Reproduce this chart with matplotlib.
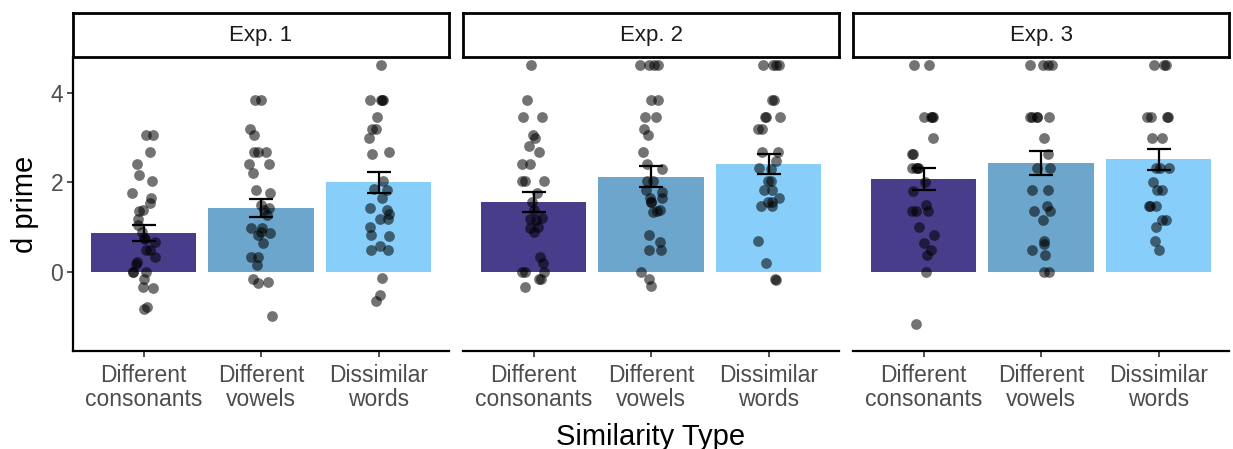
import numpy as np
import matplotlib
matplotlib.use("Agg")
import matplotlib.pyplot as plt

plt.rcParams['font.family'] = ['Liberation Sans', 'DejaVu Sans']

# categories and panels
categories = ["Different\nconsonants", "Different\nvowels", "Dissimilar\nwords"]
experiments = ["Exp. 1", "Exp. 2", "Exp. 3"]
bar_colors = ["#483D8B", "#6CA6CD", "#87CEFA"]

# bar means and standard errors (per experiment, per category)
means_exp1 = [0.86, 1.42, 2.00]
means_exp2 = [1.56, 2.12, 2.41]
means_exp3 = [2.07, 2.44, 2.51]
se_exp1 = [0.175, 0.205, 0.235]
se_exp2 = [0.215, 0.235, 0.23]
se_exp3 = [0.245, 0.27, 0.23]

# individual participant d' values
e1_cons = [3.05, 3.05, 2.67, 2.41, 2.16, 2.03, 1.77, 1.64, 1.53, 1.38, 1.35, 1.18, 1.04, 0.89, 0.76,
           0.74, 0.67, 0.48, 0.48, 0.33, 0.22, 0.17, 0, 0, 0, -0.15, -0.34, -0.37, -0.78, -0.83]
e1_vow = [3.84, 3.84, 3.2, 3.05, 2.67, 2.67, 2.67, 2.41, 2.41, 2.2, 1.82, 1.77, 1.49, 1.42, 1.38,
          1.28, 0.98, 0.98, 0.89, 0.86, 0.83, 0.65, 0.33, 0.33, 0.16, -0.15, -0.22, -0.25, -0.98]
e1_dis = [4.63, 3.84, 3.84, 3.84, 3.84, 3.46, 3.2, 3.2, 2.99, 2.67, 2.64, 2.03, 1.85, 1.82, 1.64,
          1.42, 1.38, 1.30, 1.18, 1.18, 1.0, 0.83, 0.80, 0.57, 0.48, 0.48, -0.13, -0.51, -0.66]

e2_cons = [4.63, 3.84, 3.46, 3.46, 3.05, 2.99, 2.81, 2.67, 2.41, 2.41, 2.03, 2.03, 2.03, 1.77, 1.56,
           1.38, 1.21, 1.19, 1.15, 1.0, 0.98, 0.89, 0.33, 0.19, 0, 0, 0, -0.15, -0.15, -0.33]
e2_vow = [4.63, 4.63, 4.63, 4.63, 3.84, 3.84, 3.46, 3.46, 3.2, 3.05, 2.67, 2.41, 2.29, 2.03, 2.03,
          1.82, 1.79, 1.64, 1.64, 1.56, 1.56, 1.37, 1.35, 1.33, 0.83, 0.67, 0.48, 0.48, 0.0, -0.15, -0.31]
e2_dis = [4.63, 4.63, 4.63, 4.63, 3.84, 3.84, 3.46, 3.46, 3.46, 3.2, 3.2, 2.68, 2.68, 2.47, 2.31,
          2.29, 2.03, 2.03, 1.82, 1.82, 1.64, 1.56, 1.55, 1.47, 1.47, 0.68, 0.19, -0.17, -0.19]

e3_cons = [4.63, 4.63, 3.46, 3.46, 3.46, 3.46, 2.99, 2.64, 2.64, 2.31, 2.31, 2.31, 2.31, 2.0, 1.8,
           1.49, 1.35, 1.35, 1.35, 0.99, 0.83, 0.65, 0.48, 0.37, 0.0, -1.16]
e3_vow = [4.63, 4.63, 4.63, 4.63, 3.46, 3.46, 3.46, 3.46, 3.46, 2.99, 2.64, 2.31, 2.31, 1.82, 1.82,
          1.47, 1.35, 1.35, 1.15, 0.69, 0.63, 0.48, 0.37, 0.0, 0.0]
e3_dis = [4.63, 4.63, 4.63, 3.46, 3.46, 3.46, 3.46, 2.99, 2.99, 2.31, 2.31, 2.31, 2.0, 1.82, 1.82,
          1.47, 1.47, 1.47, 1.15, 1.15, 0.99, 0.68, 0.48]

means = [means_exp1, means_exp2, means_exp3]
ses = [se_exp1, se_exp2, se_exp3]
points = [[e1_cons, e1_vow, e1_dis], [e2_cons, e2_vow, e2_dis], [e3_cons, e3_vow, e3_dis]]

rng = np.random.default_rng(7)

W, H = 1233, 449
fig = plt.figure(figsize=(W / 100, H / 100), dpi=100)

panel_left = [73, 463, 853]
panel_w = 376
panel_top, panel_bot = 57, 351
strip_top = 13

tick_grey = "#4D4D4D"
x = np.arange(1, 4)

for p in range(3):
    ax = fig.add_axes([panel_left[p] / W, 1 - panel_bot / H, panel_w / W, (panel_bot - panel_top) / H])
    ax.bar(x, means[p], width=0.9, color=bar_colors, zorder=1)
    for i in range(3):
        vals = np.array(points[p][i])
        jit = rng.uniform(-0.1, 0.1, len(vals))
        ax.scatter(x[i] + jit, vals, s=60, color="black", alpha=0.55, linewidths=0, zorder=2)
    ax.errorbar(x, means[p], yerr=ses[p], fmt="none", ecolor="black", elinewidth=1.6,
                capsize=8.5, capthick=1.6, zorder=3)
    ax.set_xlim(0.4, 3.6)
    ax.set_ylim(-1.77, 4.80)
    ax.set_xticks(x)
    ax.set_xticklabels(categories, fontsize=16.5, color=tick_grey, linespacing=1.1)
    ax.set_yticks([0, 2, 4])
    ax.tick_params(axis="both", length=4, width=1.2, color="#333333", pad=3)
    ax.tick_params(axis="x", pad=5)
    for s in ["top", "right"]:
        ax.spines[s].set_visible(False)
    ax.spines["bottom"].set_linewidth(1.6)
    if p == 0:
        ax.spines["left"].set_linewidth(1.6)
        ax.set_yticklabels(["0", "2", "4"], fontsize=16.5, color=tick_grey)
        ax.set_ylabel("d prime", fontsize=21, labelpad=8)
    else:
        ax.spines["left"].set_visible(False)
        ax.tick_params(axis="y", left=False, labelleft=False)

    # facet strip
    sax = fig.add_axes([panel_left[p] / W, 1 - panel_top / H, panel_w / W, (panel_top - strip_top) / H])
    sax.set_xticks([])
    sax.set_yticks([])
    for s in sax.spines.values():
        s.set_linewidth(2)
    sax.text(0.5, 0.5, experiments[p], ha="center", va="center", fontsize=16, color="#1A1A1A",
             transform=sax.transAxes)

fig.text((73 + 1229) / 2 / W, 1 - 437 / H, "Similarity Type", ha="center", va="center", fontsize=21)

fig.savefig("out.png", dpi=100)
